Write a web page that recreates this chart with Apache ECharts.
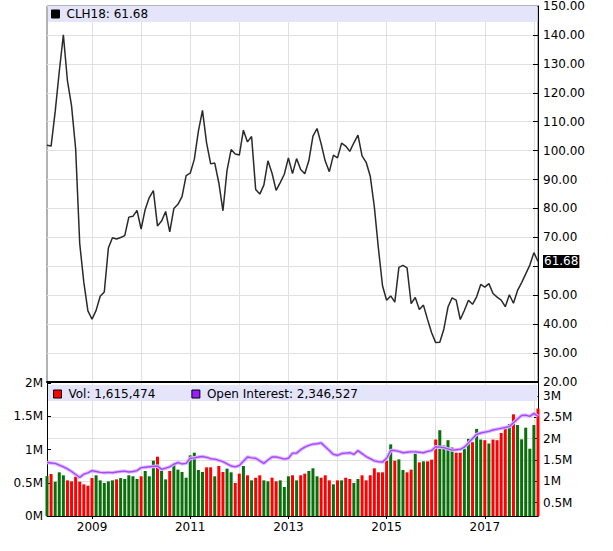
<!DOCTYPE html>
<html>
<head>
<meta charset="utf-8">
<script src="https://cdn.jsdelivr.net/npm/echarts@6/dist/echarts.min.js"></script>
<style>
html,body{margin:0;padding:0;background:#fff;}
#chart{width:613px;height:551px;}
</style>
</head>
<body>
<div id="chart"></div>
<script>
// Monthly categories Feb 2008 .. Feb 2018
const startYear = 2008, startMonth = 2, monthCount = 121;
const months = [];
for (let k = 0; k < monthCount; k++) {
  const m0 = startMonth - 1 + k;
  const y = startYear + Math.floor(m0 / 12);
  const mo = (m0 % 12) + 1;
  months.push(y + '-' + (mo < 10 ? '0' : '') + mo);
}

const prices = [
  101.84, 101.58, 113.46, 127.35, 140.00, 124.08, 115.46, 100.64, 67.81, 54.43, 44.60,
  41.68, 44.76, 49.66, 51.12, 66.31, 69.89, 69.45, 69.96, 70.61, 77.00, 77.28, 79.36,
  72.89, 79.66, 83.76, 86.15, 73.97, 75.63, 78.95, 71.92, 79.97, 81.43, 84.11, 91.38,
  92.19, 96.97, 106.72, 113.93, 102.70, 95.42, 95.70, 88.81, 79.20, 93.19, 100.36, 98.83,
  98.48, 107.07, 103.02, 104.87, 86.53, 84.96, 88.06, 96.47, 92.19, 86.24, 88.91, 91.82,
  97.49, 92.05, 97.23, 93.46, 91.97, 96.56, 105.03, 107.65, 102.33, 96.38, 92.72, 98.42,
  97.49, 102.59, 101.58, 99.74, 102.71, 105.37, 98.17, 95.96, 91.16, 80.54, 66.15, 53.27,
  48.24, 49.76, 47.60, 59.63, 60.30, 59.47, 47.12, 49.20, 45.09, 46.59, 41.65, 37.04,
  33.62, 33.75, 38.34, 45.92, 49.10, 48.33, 41.60, 44.70, 48.24, 46.86, 49.44, 53.72,
  52.81, 54.01, 50.60, 49.33, 48.32, 46.04, 50.17, 47.23, 51.67, 54.38, 57.40, 60.42,
  64.73, 61.68
];
const prevClose = 91.75;

const volumes = [
  600000, 632000, 516000, 657000, 612000, 536000, 521000, 591000, 516000, 476000, 456000,
  571000, 612000, 536000, 496000, 521000, 536000, 551000, 571000, 556000, 612000, 597000, 556000,
  597000, 677000, 597000, 832000, 892000, 677000, 551000, 677000, 777000, 697000, 662000, 576000,
  912000, 952000, 692000, 662000, 732000, 732000, 597000, 752000, 662000, 712000, 657000, 496000,
  637000, 752000, 612000, 536000, 576000, 612000, 536000, 521000, 576000, 521000, 536000, 436000,
  597000, 612000, 536000, 612000, 637000, 677000, 717000, 597000, 576000, 612000, 536000, 476000,
  536000, 536000, 576000, 556000, 496000, 556000, 612000, 536000, 612000, 717000, 657000, 657000,
  832000, 1077000, 832000, 852000, 692000, 657000, 697000, 937000, 807000, 822000, 822000, 847000,
  1150000, 1290000, 1060000, 1140000, 1030000, 952000, 952000, 1010000, 1160000, 1110000, 1310000, 1150000,
  1140000, 1090000, 1150000, 1140000, 1248000, 1323000, 1383000, 1529000, 1368000, 1153000, 1328000, 1012000,
  1368000, 1615474
];

const openInterest = [
  1440000, 1430000, 1420000, 1380000, 1340000, 1290000, 1230000, 1160000, 1090000, 1170000, 1200000,
  1250000, 1230000, 1210000, 1200000, 1210000, 1200000, 1220000, 1230000, 1240000, 1220000, 1230000, 1250000,
  1320000, 1330000, 1340000, 1350000, 1360000, 1280000, 1310000, 1340000, 1400000, 1440000, 1410000, 1420000,
  1540000, 1550000, 1570000, 1580000, 1560000, 1530000, 1520000, 1490000, 1460000, 1410000, 1360000, 1340000,
  1370000, 1470000, 1570000, 1550000, 1540000, 1480000, 1420000, 1500000, 1570000, 1570000, 1550000, 1520000,
  1540000, 1660000, 1660000, 1740000, 1800000, 1840000, 1870000, 1880000, 1900000, 1810000, 1720000, 1630000,
  1610000, 1650000, 1660000, 1670000, 1630000, 1720000, 1650000, 1580000, 1530000, 1480000, 1460000, 1450000,
  1540000, 1720000, 1720000, 1700000, 1670000, 1680000, 1690000, 1690000, 1680000, 1670000, 1700000, 1720000,
  1810000, 1800000, 1790000, 1760000, 1730000, 1740000, 1750000, 1800000, 1900000, 2000000, 2100000, 2130000,
  2150000, 2170000, 2200000, 2220000, 2240000, 2260000, 2280000, 2370000, 2460000, 2540000, 2550000, 2520000,
  2590000, 2520000
];

const priceTickLabels = [20, 30, 40, 50, 70, 80, 90, 100, 110, 120, 130, 140, 150];
const oiTicks = [500000, 1000000, 1500000, 2000000, 2500000, 3000000];
const oddYearLabels = ['2009', '2011', '2013', '2015', '2017'];

const lastPrice = 61.68;
const priceName = 'CLH18: 61.68';
const volName = 'Vol: 1,615,474';
const oiName = 'Open Interest: 2,346,527';

const RED = '#ff0000', GREEN = '#0a6e0a';
const volData = volumes.map((v, i) => {
  const prev = i === 0 ? prevClose : prices[i - 1];
  return { value: v, itemStyle: { color: prices[i] > prev ? GREEN : RED } };
});

const isJan = (i) => months[i].slice(5) === '01';
const isLabelYear = (i) => isJan(i) && oddYearLabels.indexOf(months[i].slice(0, 4)) >= 0;
const mFmt = (v) => (v / 1e6) + 'M';
const FONT = 'DejaVu Sans';
const GRIDC = '#e0e0e0';

const chart = echarts.init(document.getElementById('chart'), null, { renderer: 'svg' });
chart.setOption({
  animation: false,
  backgroundColor: '#fff',
  textStyle: { fontFamily: FONT, fontSize: 12, color: '#000' },
  grid: [
    { left: 47, right: 75, top: 5, height: 377, show: true, borderColor: '#666', borderWidth: 1, backgroundColor: 'transparent' },
    { left: 47, right: 75, top: 383, height: 133 }
  ],
  graphic: [
    { type: 'rect', z: 1, shape: { x: 48, y: 6, width: 489.5, height: 16 }, style: { fill: '#e4e4fb' } },
    { type: 'rect', z: 1, shape: { x: 48, y: 385, width: 489.5, height: 16 }, style: { fill: '#e4e4fb' } }
  ],
  legend: [
    {
      data: [priceName], left: 51, top: 8, icon: 'rect', itemWidth: 8, itemHeight: 8, selectedMode: false,
      itemStyle: { color: '#000', borderColor: '#000', borderWidth: 1 },
      textStyle: { fontFamily: FONT, fontSize: 12, color: '#000', padding: [0, 0, 0, 2] }, padding: 0, z: 5
    },
    {
      data: [volName, oiName], left: 53, top: 388, icon: 'rect', itemWidth: 8, itemHeight: 8, itemGap: 36, selectedMode: false,
      itemStyle: { borderColor: '#000', borderWidth: 1 },
      textStyle: { fontFamily: FONT, fontSize: 12, color: '#000', padding: [0, 0, 0, 2] }, padding: 0, z: 5
    }
  ],
  xAxis: [
    {
      type: 'category', gridIndex: 0, data: months, boundaryGap: false,
      axisLine: { show: true, lineStyle: { color: '#000', width: 2 } },
      axisTick: { show: false }, axisLabel: { show: false },
      splitLine: { show: true, interval: (i) => isJan(i), lineStyle: { color: GRIDC, width: 1 } }
    },
    {
      type: 'category', gridIndex: 1, data: months, boundaryGap: false,
      axisLine: { show: true, lineStyle: { color: '#000', width: 1 } },
      axisTick: { show: true, interval: (i) => isLabelYear(i), length: 3, lineStyle: { color: '#000' } },
      axisLabel: { show: true, interval: (i) => isLabelYear(i), formatter: (v) => v.slice(0, 4), margin: 5, fontFamily: FONT, fontSize: 12, color: '#000' },
      splitLine: { show: true, interval: (i) => isJan(i), lineStyle: { color: GRIDC, width: 1 } }
    }
  ],
  yAxis: [
    {
      type: 'value', gridIndex: 0, position: 'right', min: 20, max: 150, interval: 10,
      axisLine: { show: true, lineStyle: { color: '#000', width: 1 } },
      axisTick: { show: true, inside: true, length: 5, lineStyle: { color: '#000' } },
      axisLabel: {
        margin: 5, fontFamily: FONT, fontSize: 12, color: '#000',
        formatter: (v) => priceTickLabels.indexOf(v) >= 0 ? v.toFixed(2) : ''
      },
      splitLine: { show: true, lineStyle: { color: GRIDC, width: 1 } }
    },
    {
      type: 'value', gridIndex: 1, position: 'left', min: 0, max: 2000000, interval: 500000,
      axisLine: { show: true, lineStyle: { color: '#000', width: 1 } },
      axisTick: { show: true, inside: true, length: 4, lineStyle: { color: '#000' } },
      axisLabel: { margin: 4, fontFamily: FONT, fontSize: 12, color: '#000', formatter: mFmt },
      splitLine: { show: false }
    },
    {
      type: 'value', gridIndex: 1, position: 'right', min: 190000, max: 3300000,
      axisLine: { show: true, lineStyle: { color: '#000', width: 1 } },
      axisTick: { show: true, inside: true, length: 4, customValues: oiTicks, lineStyle: { color: '#000' } },
      axisLabel: { margin: 5, customValues: oiTicks, fontFamily: FONT, fontSize: 12, color: '#000', formatter: mFmt },
      splitLine: { show: true, lineStyle: { color: GRIDC, width: 1 } }
    }
  ],
  series: [
    {
      name: priceName, type: 'line', xAxisIndex: 0, yAxisIndex: 0, data: prices, clip: false,
      symbol: 'none', color: '#000', lineStyle: { color: '#2a2a2a', width: 1.5 }, z: 3,
      markLine: {
        silent: true, symbol: ['none', 'none'],
        lineStyle: { color: 'rgba(0,0,0,0)', width: 0, type: 'solid' },
        label: {
          show: true, position: 'end', distance: 5, formatter: lastPrice.toFixed(2),
          backgroundColor: '#000', color: '#fff', padding: [1, 1, 0, 1], fontFamily: FONT, fontSize: 12
        },
        emphasis: { disabled: true },
        data: [{ yAxis: lastPrice }]
      }
    },
    {
      name: volName, type: 'bar', xAxisIndex: 1, yAxisIndex: 1, data: volData,
      color: RED, barWidth: 3, clip: true, z: 2
    },
    {
      name: 'oiGlow', type: 'line', xAxisIndex: 1, yAxisIndex: 2, data: openInterest,
      symbol: 'none', lineStyle: { color: '#dcb8ff', width: 3.5 }, z: 3, silent: true
    },
    {
      name: oiName, type: 'line', xAxisIndex: 1, yAxisIndex: 2, data: openInterest,
      symbol: 'none', color: '#9a1cff', lineStyle: { color: '#a848ff', width: 1.4 }, z: 4
    }
  ]
});
</script>
</body>
</html>
